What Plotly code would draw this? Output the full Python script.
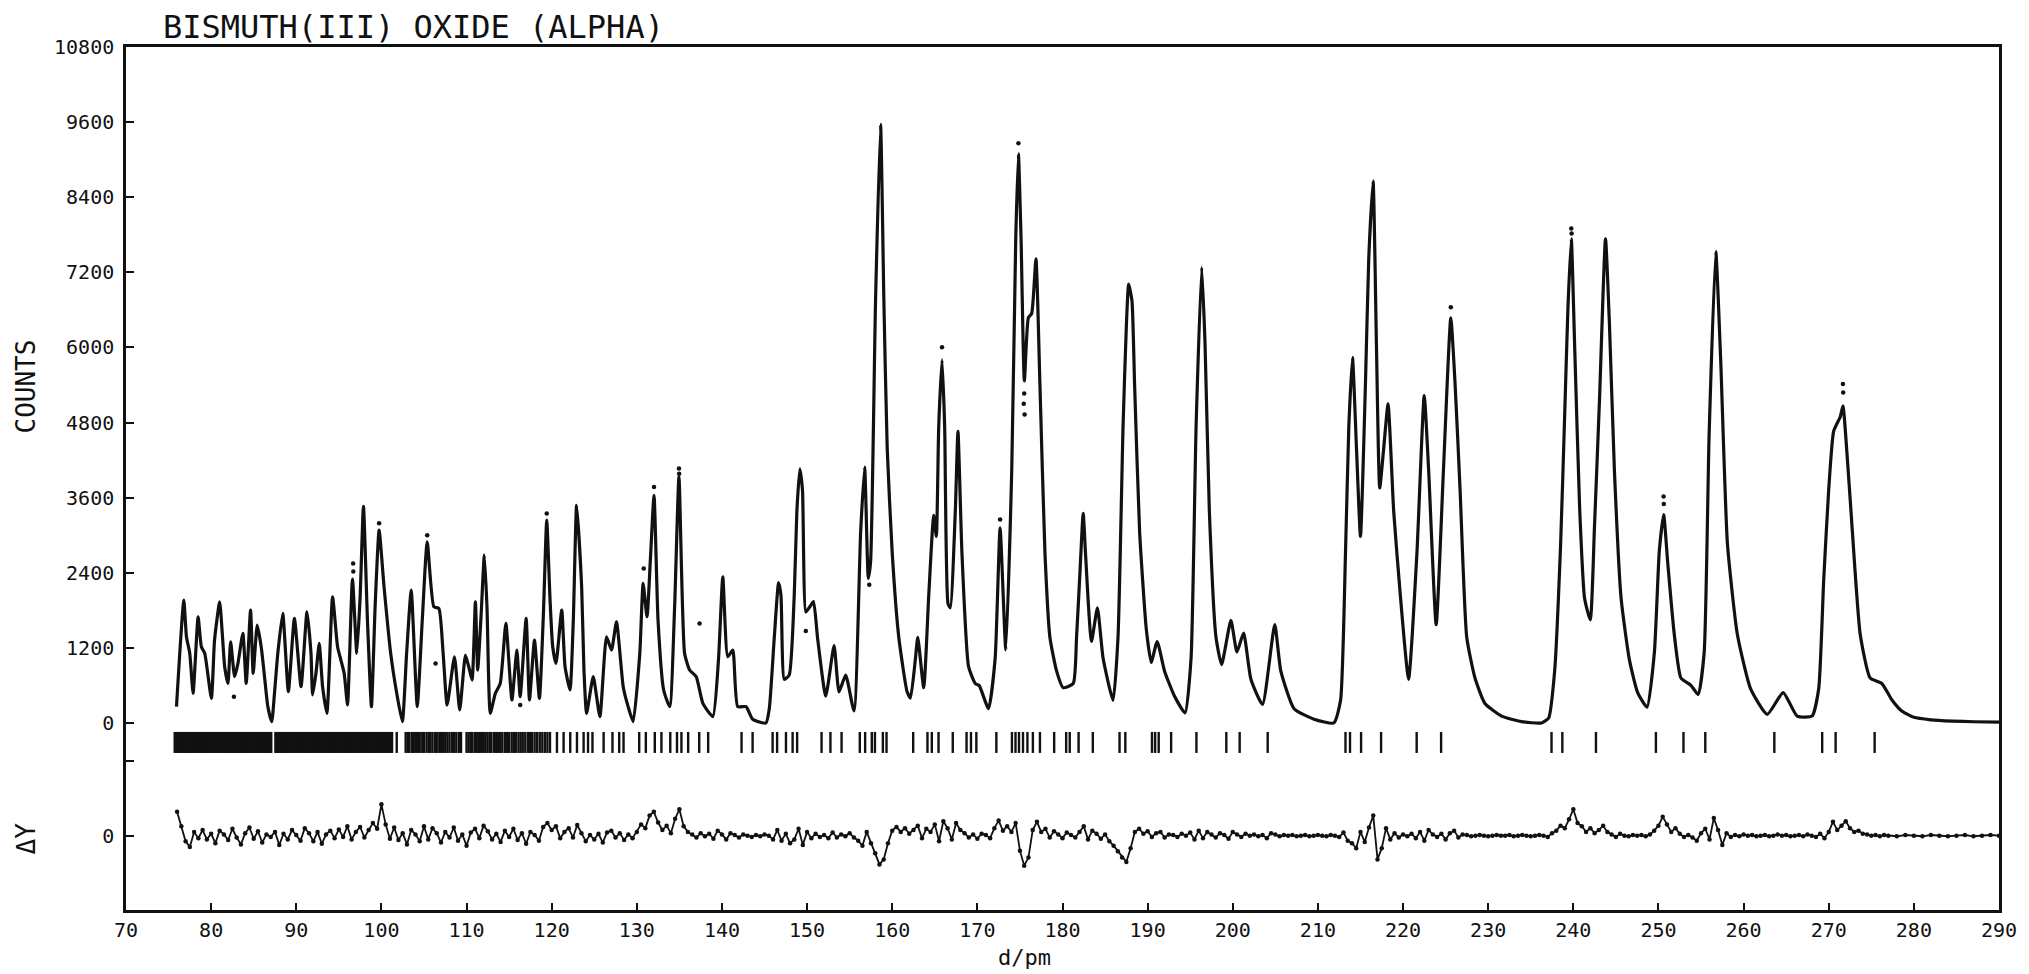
import plotly.graph_objects as go

# ---- observed / calculated powder profile (d in pm, counts) ----
PROFILE_D = [
    75.93, 76.79, 77.1, 77.49, 77.88, 78.47, 78.85, 79.25, 80.03, 80.4,
    81.0, 81.3, 81.59, 81.98, 82.29, 82.76, 83.15, 83.73, 84.12, 84.63,
    84.94, 85.41, 85.88, 86.27, 86.66, 87.12, 87.44, 87.83, 88.41, 89.07,
    89.78, 90.56, 91.26, 91.73, 91.92, 92.31, 92.7, 93.09, 93.6, 94.26,
    94.85, 95.24, 95.63, 96.02, 96.6, 97.11, 97.5, 97.89, 98.36, 98.83,
    99.26, 99.73, 100.31, 101.09, 101.87, 102.46, 102.96, 103.5, 104.21, 104.8,
    105.38, 106.16, 106.75, 107.25, 107.72, 108.58, 109.2, 109.87, 110.26, 110.65,
    111.04, 111.31, 111.7, 112.09, 112.4, 112.79, 113.38, 113.96, 114.62, 115.33,
    115.91, 116.3, 117.0, 117.39, 117.98, 118.56, 119.03, 119.42, 119.81, 120.12,
    120.51, 121.18, 121.57, 122.15, 122.54, 122.93, 123.52, 123.79, 124.1, 124.88,
    125.66, 126.44, 127.03, 127.61, 128.4, 128.98, 129.57, 130.35, 130.74, 131.2,
    131.59, 132.02, 132.49, 133.15, 133.86, 134.44, 134.95, 135.61, 136.2, 136.98,
    137.76, 138.93, 139.59, 140.1, 140.68, 141.27, 141.85, 142.83, 143.61, 145.17,
    145.56, 146.15, 146.65, 146.93, 147.32, 147.9, 148.49, 148.8, 149.15, 149.46,
    149.85, 150.24, 150.75, 151.22, 152.19, 153.17, 153.75, 154.53, 155.51, 156.29,
    156.76, 157.19, 157.46, 158.04, 158.63, 159.02, 159.41, 160.0, 160.77, 161.75,
    162.14, 162.73, 163.0, 163.7, 164.29, 164.87, 165.18, 165.46, 165.85, 166.16,
    166.55, 166.82, 167.41, 167.72, 168.19, 168.97, 169.75, 170.22, 171.31, 172.09,
    172.67, 173.34, 174.04, 174.51, 174.82, 175.13, 175.52, 175.99, 176.38, 176.88,
    177.35, 177.94, 178.52, 179.3, 180.08, 181.26, 181.65, 182.04, 182.43, 182.7,
    183.4, 184.1, 184.77, 185.94, 186.52, 187.11, 187.5, 187.77, 188.16, 188.47,
    189.06, 189.84, 190.42, 191.12, 191.98, 193.15, 194.4, 195.1, 195.69, 196.35,
    196.74, 197.25, 198.03, 198.69, 199.78, 200.49, 201.27, 202.13, 203.49, 204.93,
    205.64, 207.2, 209.54, 211.88, 212.66, 213.24, 213.63, 214.06, 214.53, 215.0,
    215.58, 215.97, 216.48, 216.87, 217.26, 217.73, 218.24, 218.9, 219.68, 220.65,
    221.63, 222.49, 223.0, 223.89, 224.75, 225.61, 226.12, 226.7, 227.48, 228.45,
    229.62, 231.57, 233.91, 236.25, 237.11, 237.81, 238.51, 238.98, 239.37, 239.76,
    240.15, 240.74, 241.32, 241.99, 242.49, 243.08, 243.78, 244.25, 244.83, 245.61,
    246.59, 247.56, 248.66, 249.52, 250.1, 250.61, 251.08, 251.86, 252.64, 253.81,
    254.66, 255.37, 255.95, 256.73, 257.32, 258.1, 259.27, 260.83, 262.78, 264.65,
    266.29, 268.04, 268.82, 269.41, 270.0, 270.58, 271.36, 271.67, 272.14, 272.73,
    273.7, 274.87, 276.24, 277.41, 278.5, 280.0, 282.0, 284.5, 287.0, 290.0,
]
PROFILE_C = [
    261, 1963, 1378, 1112, 473, 1697, 1218, 1112, 394, 1324,
    1936, 1450, 899, 633, 1298, 739, 952, 1431, 633, 1803,
    792, 1564, 1218, 739, 261, 21, 473, 1112, 1750, 500,
    1670, 580, 1777, 1112, 447, 792, 1271, 580, 154, 2016,
    1218, 1005, 792, 287, 2300, 1112, 2016, 3463, 1644, 261,
    1856, 3080, 2176, 1112, 420, 21, 1112, 2122, 261, 1644,
    2894, 1856, 1830, 1112, 287, 1058, 207, 1085, 899, 686,
    1936, 846, 1697, 2681, 1856, 154, 473, 633, 1590, 367,
    1165, 420, 1670, 367, 1324, 394, 1750, 3240, 1963, 1218,
    952, 1803, 899, 527, 1644, 3479, 2176, 846, 154, 739,
    101, 1378, 1165, 1617, 580, 261, 21, 1112, 2229, 1697,
    2601, 3638, 1644, 527, 261, 1856, 3931, 1112, 846, 739,
    314, 101, 1005, 2335, 1058, 1165, 261, 261, 60, 0,
    228, 1370, 2243, 2041, 698, 765, 2041, 3384, 4060, 3720,
    1773, 1840, 1940, 1370, 430, 1236, 497, 765, 194, 3049,
    4090, 2310, 2578, 6742, 9563, 6742, 4392, 2713, 1370, 497,
    396, 1034, 1370, 564, 2041, 3317, 2981, 4728, 5800, 4728,
    1907, 1840, 3384, 4661, 2713, 899, 631, 597, 228, 1034,
    3116, 1168, 4056, 7750, 9093, 7750, 5466, 6474, 6541, 7414,
    5399, 2713, 1370, 832, 564, 631, 1370, 2377, 3351, 2713,
    1302, 1840, 1034, 362, 1370, 4728, 6340, 7011, 6742, 5399,
    3049, 1504, 967, 1302, 832, 430, 161, 1034, 4728, 7280,
    6071, 3384, 1370, 933, 1638, 1134, 1437, 698, 295, 1571,
    832, 228, 60, 0, 362, 2713, 4728, 5836, 4392, 2981,
    5399, 7414, 8657, 6071, 3754, 4392, 5097, 3384, 2041, 698,
    2713, 5231, 4056, 1571, 4056, 6474, 5399, 3720, 1370, 718,
    312, 110, 22, 0, 80, 834, 2864, 4894, 6634, 7736,
    6054, 3444, 1994, 1646, 3154, 5184, 7736, 6344, 4024, 1994,
    1008, 486, 254, 1124, 2748, 3328, 2574, 1414, 718, 602,
    457, 1124, 4604, 7533, 5764, 2864, 1414, 544, 138, 486,
    110, 110, 544, 2284, 3734, 4662, 4894, 5068, 4314, 3154,
    1414, 718, 631, 370, 200, 90, 50, 30, 20, 15,
]

# ---- single observed points standing off the profile ----
OBS_D = [96.68, 96.7, 99.73, 105.38, 82.68, 106.36, 116.3, 119.42, 130.81, 132.02,
         134.95, 134.97, 137.37, 149.85, 157.3, 165.85, 172.67, 174.82, 175.45, 175.5,
         175.55, 225.61, 239.76, 239.8, 250.6, 250.63, 271.67, 271.7]
OBS_C = [2548, 2420, 3190, 3000, 420, 952, 287, 3346, 2468, 3771,
         4064, 3980, 1590, 1470, 2210, 6004, 3250, 9261, 5100, 5265,
         4929, 6642, 7899, 7820, 3618, 3500, 5416, 5280]

# ---- reflection positions (d / pm) ----
REFLECTIONS = [
    75.72, 75.9, 76.06, 76.2, 76.39, 76.52, 76.71, 76.86, 77.0, 77.19,
    77.33, 77.52, 77.64, 77.8, 77.98, 78.12, 78.31, 78.45, 78.6, 78.79,
    78.93, 79.11, 79.24, 79.41, 79.57, 79.72, 79.91, 80.05, 80.2, 80.39,
    80.52, 80.71, 80.85, 81.0, 81.19, 81.33, 81.51, 81.65, 81.8, 81.99,
    82.12, 82.31, 82.45, 82.6, 82.79, 82.93, 83.11, 83.25, 83.4, 83.59,
    83.72, 83.91, 84.05, 84.2, 84.39, 84.53, 84.71, 84.85, 85.0, 85.19,
    85.33, 85.51, 85.65, 85.8, 85.99, 86.13, 86.31, 86.45, 86.6, 86.79,
    86.95, 87.06,
    87.55, 87.73, 87.9, 88.06, 88.22, 88.41, 88.55, 88.73, 88.9, 89.06,
    89.22, 89.41, 89.55, 89.73, 89.9, 90.06, 90.22, 90.41, 90.55, 90.73,
    90.9, 91.06, 91.22, 91.41, 91.55, 91.73, 91.9, 92.06, 92.22, 92.41,
    92.55, 92.73, 92.9, 93.06, 93.22, 93.41, 93.55, 93.73, 93.9, 94.06,
    94.22, 94.41, 94.55, 94.73, 94.9, 95.06, 95.22, 95.41, 95.55, 95.73,
    95.9, 96.06, 96.22, 96.41, 96.55, 96.73, 96.9, 97.06, 97.22, 97.41,
    97.55, 97.73, 97.9, 98.06, 98.22, 98.41, 98.55, 98.73, 98.9, 99.06,
    99.22, 99.41, 99.55, 99.73, 99.9, 100.06, 100.22, 100.41, 100.55, 100.73,
    100.9, 101.06, 101.25, 101.8,
    102.85, 103.1, 103.3, 103.6, 103.8, 104.05, 104.3, 104.5, 104.8, 105.0,
    105.3, 105.55, 105.75, 106.0, 106.3, 106.5, 106.8, 107.0, 107.25, 107.5,
    107.75, 108.0, 108.3, 108.55, 108.8, 109.1, 109.35,
    110.0, 110.25, 110.5, 110.7, 111.0, 111.2, 111.45, 111.7, 111.95, 112.2,
    112.45, 112.7, 112.9, 113.2, 113.45, 113.7, 113.95, 114.2, 114.5, 114.75,
    115.0, 115.3, 115.55, 115.8, 116.1, 116.35, 116.6, 116.9, 117.2, 117.45,
    117.7, 118.0, 118.3, 118.6, 118.9, 119.2, 119.5, 119.8,
    120.62, 121.4, 122.18, 122.97, 123.75, 124.27, 124.79, 126.1, 127.14, 127.93,
    128.44, 130.28, 131.06, 132.11, 132.89, 133.93, 134.72, 135.24, 136.03, 137.33,
    138.38, 142.3, 143.6, 145.95, 146.48, 147.52, 148.3, 148.83, 151.7, 152.74,
    154.05, 156.19, 156.82, 157.6, 157.97, 158.9, 159.33, 162.46, 164.14, 164.65,
    165.44, 167.11, 168.73, 169.25, 169.88, 172.23, 174.06, 174.48, 174.89, 175.36,
    175.88, 176.52, 177.35, 179.02, 180.43, 180.85, 181.89, 183.56, 186.7, 187.38,
    190.51, 190.88, 191.3, 192.76, 195.73, 199.24, 200.81, 204.1, 213.24, 213.77,
    215.07, 217.42, 221.6, 224.47, 237.44, 238.71, 242.66, 249.7, 252.94, 255.5,
    263.61, 269.23, 270.81, 275.39,
]

# ---- difference curve (d / pm, obs - calc in counts) ----
RESIDUALS = [
    (76.0, 380), (76.5, 150), (77.0, -90), (77.5, -180), (78.0, 60), (78.5, -40), (79.0, 90), (79.5, -60), (80.0, 30), (80.5, -120),
    (81.0, 80), (81.5, 20), (82.0, -70), (82.5, 110), (83.0, -30), (83.5, -140), (84.0, 40), (84.5, 130), (85.0, -50), (85.5, 70),
    (86.0, -110), (86.5, 20), (87.0, -20), (87.5, 60), (88.0, -150), (88.5, 30), (89.0, -60), (89.5, 90), (90.0, 10), (90.5, -80),
    (91.0, 120), (91.5, 40), (92.0, -90), (92.5, 60), (93.0, -130), (93.5, 20), (94.0, 80), (94.5, -40), (95.0, 100), (95.5, -20),
    (96.0, 150), (96.5, -60), (97.0, 60), (97.5, 140), (98.0, -30), (98.5, 90), (99.0, 200), (99.5, 110), (100.0, 500), (100.5, 180),
    (101.0, -50), (101.5, 130), (102.0, -70), (102.5, 40), (103.0, -140), (103.5, 90), (104.0, 20), (104.5, -90), (105.0, 150), (105.5, -60),
    (106.0, 120), (106.5, 40), (107.0, -110), (107.5, 60), (108.0, -30), (108.5, 130), (109.0, -80), (109.5, 20), (110.0, -160), (110.5, 50),
    (111.0, 110), (111.5, -40), (112.0, 160), (112.5, 70), (113.0, -60), (113.5, 30), (114.0, -100), (114.5, 80), (115.0, -20), (115.5, 110),
    (116.0, -70), (116.5, 40), (117.0, -130), (117.5, 60), (118.0, 10), (118.5, -80), (119.0, 140), (119.5, 200), (120.0, 90), (120.5, 150),
    (121.0, -40), (121.5, 60), (122.0, 120), (122.5, -30), (123.0, 170), (123.5, 40), (124.0, -90), (124.5, 10), (125.0, -60), (125.5, 30),
    (126.0, -110), (126.5, 50), (127.0, 80), (127.5, -30), (128.0, 40), (128.5, -70), (129.0, 20), (129.5, -40), (130.0, 60), (130.5, 180),
    (131.0, 120), (131.5, 320), (132.0, 380), (132.5, 210), (133.0, 90), (133.5, 160), (134.0, 40), (134.5, 270), (135.0, 420), (135.5, 150),
    (136.0, 60), (136.5, 20), (137.0, -30), (137.5, 40), (138.0, -10), (138.5, 30), (139.0, -50), (139.5, 80), (140.0, 20), (140.5, -60),
    (141.0, 40), (141.5, 10), (142.0, -30), (142.5, 20), (143.0, 0), (143.5, -20), (144.0, 10), (144.5, -10), (145.0, 20), (145.5, 0),
    (146.0, -60), (146.5, 90), (147.0, -80), (147.5, 30), (148.0, -120), (148.5, -60), (149.0, 110), (149.5, -150), (150.0, 60), (150.5, -40),
    (151.0, 30), (151.5, -20), (152.0, 10), (152.5, -40), (153.0, 50), (153.5, -30), (154.0, 20), (154.5, -10), (155.0, 40), (155.5, -30),
    (156.0, -80), (156.5, -160), (157.0, 60), (157.5, -120), (158.0, -280), (158.5, -460), (159.0, -380), (159.5, -120), (160.0, 80), (160.5, 140),
    (161.0, 60), (161.5, 120), (162.0, 30), (162.5, 90), (163.0, 160), (163.5, -40), (164.0, 110), (164.5, 60), (165.0, 180), (165.5, -90),
    (166.0, 230), (166.5, 120), (167.0, -60), (167.5, 200), (168.0, 90), (168.5, 40), (169.0, -30), (169.5, 20), (170.0, -50), (170.5, 30),
    (171.0, 10), (171.5, -40), (172.0, 120), (172.5, 240), (173.0, 80), (173.5, 150), (174.0, 60), (174.5, 200), (175.0, -240), (175.5, -480),
    (176.0, -350), (176.5, 90), (177.0, 220), (177.5, 60), (178.0, 110), (178.5, -30), (179.0, 70), (179.5, 20), (180.0, -40), (180.5, 50),
    (181.0, 10), (181.5, -30), (182.0, 60), (182.5, 150), (183.0, -60), (183.5, 80), (184.0, 30), (184.5, -50), (185.0, 20), (185.5, -90),
    (186.0, -160), (186.5, -250), (187.0, -350), (187.5, -420), (188.0, -200), (188.5, 60), (189.0, 110), (189.5, 30), (190.0, 70), (190.5, -20),
    (191.0, 40), (191.5, 60), (192.0, -30), (192.5, 20), (193.0, 10), (193.5, -20), (194.0, 30), (194.5, 0), (195.0, 50), (195.5, -60),
    (196.0, 80), (196.5, -40), (197.0, 60), (197.5, 20), (198.0, -30), (198.5, 40), (199.0, 10), (199.5, -50), (200.0, 60), (200.5, 20),
    (201.0, -20), (201.5, 30), (202.0, 0), (202.5, 20), (203.0, -10), (203.5, 10), (204.0, -40), (204.5, 40), (205.0, 20), (205.5, -10),
    (206.0, 10), (206.5, 0), (207.0, 10), (207.5, -10), (208.0, 0), (208.5, 10), (209.0, -10), (209.5, 0), (210.0, 10), (210.5, 0),
    (211.0, -10), (211.5, 10), (212.0, 0), (212.5, -20), (213.0, 50), (213.5, -80), (214.0, -120), (214.5, -200), (215.0, 60), (215.5, -100),
    (216.0, 130), (216.5, 320), (217.0, -380), (217.5, -200), (218.0, 120), (218.5, -60), (219.0, 40), (219.5, -30), (220.0, 20), (220.5, -10),
    (221.0, 30), (221.5, -40), (222.0, 60), (222.5, -80), (223.0, 90), (223.5, 20), (224.0, -20), (224.5, 30), (225.0, -60), (225.5, 40),
    (226.0, 80), (226.5, -30), (227.0, 20), (227.5, 10), (228.0, -10), (228.5, 0), (229.0, 10), (229.5, 0), (230.0, -10), (230.5, 0),
    (231.0, 10), (231.5, 0), (232.0, 0), (232.5, 10), (233.0, -10), (233.5, 0), (234.0, 10), (234.5, 0), (235.0, -10), (235.5, 0),
    (236.0, 10), (236.5, 0), (237.0, -20), (237.5, 40), (238.0, 80), (238.5, 160), (239.0, 120), (239.5, 260), (240.0, 420), (240.5, 200),
    (241.0, 150), (241.5, 60), (242.0, 120), (242.5, 40), (243.0, 90), (243.5, 160), (244.0, 60), (244.5, 20), (245.0, -20), (245.5, 30),
    (246.0, 0), (246.5, -10), (247.0, 10), (247.5, 0), (248.0, 10), (248.5, -10), (249.0, 20), (249.5, 80), (250.0, 160), (250.5, 300),
    (251.0, 180), (251.5, 60), (252.0, 120), (252.5, 30), (253.0, -20), (253.5, 10), (254.0, -30), (254.5, -80), (255.0, 40), (255.5, 110),
    (256.0, -60), (256.5, 280), (257.0, 90), (257.5, -150), (258.0, 40), (258.5, -20), (259.0, 10), (259.5, -10), (260.0, 20), (260.5, 0),
    (261.0, 10), (261.5, -10), (262.0, 0), (262.5, 10), (263.0, -10), (263.5, 0), (264.0, 20), (264.5, 0), (265.0, 10), (265.5, -10),
    (266.0, 0), (266.5, 10), (267.0, -10), (267.5, 20), (268.0, 0), (268.5, -20), (269.0, 30), (269.5, -40), (270.0, 60), (270.5, 220),
    (271.0, 90), (271.5, 160), (272.0, 230), (272.5, 120), (273.0, 60), (273.5, 80), (274.0, 30), (274.5, 20), (275.0, 0), (275.5, 10),
    (276.0, -10), (276.5, 10), (277.0, 0), (278.0, -10), (279.0, 10), (280.0, 0), (281.0, -10), (282.0, 10), (283.0, 0), (284.0, -10),
    (285.0, 0), (286.0, 10), (287.0, -10), (288.0, 0), (289.0, 10), (290.0, 0),
]

X_TICKS = list(range(70, 291, 10))
Y_TICKS = [-1800, -600, 0, 1200, 2400, 3600, 4800, 6000, 7200, 8400, 9600, 10800]
Y_TICK_TEXT = ["0", "", "0", "1200", "2400", "3600", "4800", "6000", "7200", "8400", "9600", "10800"]

# vertical placement of the lower bands, in count units of the shared axis
REFL_LEVEL = -311
DIFF_ZERO = -1800

INK = "#111111"
MONO = "DejaVu Sans Mono"

fig = go.Figure()

fig.add_trace(go.Scatter(
    x=PROFILE_D, y=PROFILE_C, mode="lines",
    line=dict(color=INK, width=3.2, shape="spline", smoothing=0.5),
    hoverinfo="skip"))

fig.add_trace(go.Scatter(
    x=OBS_D, y=OBS_C, mode="markers",
    marker=dict(color=INK, size=4.5), hoverinfo="skip"))

fig.add_trace(go.Scatter(
    x=REFLECTIONS, y=[REFL_LEVEL] * len(REFLECTIONS), mode="markers",
    marker=dict(symbol="line-ns", size=15, color=INK,
                line=dict(color=INK, width=2.4)),
    hoverinfo="skip"))

res_d = [p[0] for p in RESIDUALS]
res_y = [DIFF_ZERO + p[1] for p in RESIDUALS]
fig.add_trace(go.Scatter(
    x=res_d, y=res_y, mode="lines+markers",
    line=dict(color=INK, width=1.8),
    marker=dict(color=INK, size=4.5), hoverinfo="skip"))

fig.update_layout(
    width=2029, height=974,
    margin=dict(l=126, r=23, t=47, b=64),
    paper_bgcolor="white", plot_bgcolor="white",
    showlegend=False,
    font=dict(family=MONO, color=INK, size=20),
    xaxis=dict(
        range=[70, 290], tickvals=X_TICKS, ticktext=[str(v) for v in X_TICKS],
        ticks="inside", ticklen=7, tickwidth=2, tickcolor=INK,
        showline=True, mirror=True, linewidth=2.5, linecolor=INK,
        showgrid=False, zeroline=False,
        tickfont=dict(family=MONO, size=20, color=INK),
    ),
    yaxis=dict(
        range=[-2988, 10800], tickvals=Y_TICKS, ticktext=Y_TICK_TEXT,
        ticks="inside", ticklen=8, tickwidth=2, tickcolor=INK,
        showline=True, mirror=True, linewidth=2.5, linecolor=INK,
        showgrid=False, zeroline=False, ticklabelstandoff=5,
        tickfont=dict(family=MONO, size=20, color=INK),
    ),
)

fig.add_annotation(
    text="BISMUTH(III) OXIDE (ALPHA)", xref="paper", yref="paper",
    x=0.0186, y=1.0226, xanchor="left", yanchor="middle", showarrow=False,
    font=dict(family=MONO, size=32, color=INK))
fig.add_annotation(
    text="COUNTS", xref="paper", yref="paper", x=-0.0532, y=0.607,
    xanchor="center", yanchor="middle", textangle=-90, showarrow=False,
    font=dict(family=MONO, size=26, color=INK))
fig.add_annotation(
    text="\u0394Y", xref="paper", yref="paper", x=-0.0532, y=0.0834,
    xanchor="center", yanchor="middle", textangle=-90, showarrow=False,
    font=dict(family=MONO, size=26, color=INK))
fig.add_annotation(
    text="d/pm", xref="paper", yref="paper", x=0.4795, y=-0.0545,
    xanchor="center", yanchor="middle", showarrow=False,
    font=dict(family=MONO, size=22, color=INK))

fig.write_html("out.html")
